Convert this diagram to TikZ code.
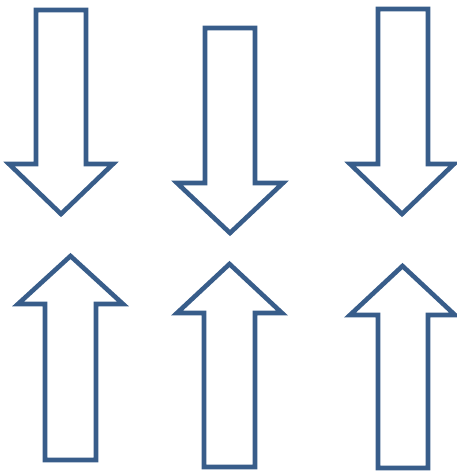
\documentclass[tikz,border=0pt]{standalone}
\usepackage{tikz}

\definecolor{arrowblue}{HTML}{385D8A}

\tikzset{blockline/.style={draw=arrowblue,line width=4.6pt,fill=white,line join=miter}}

% block arrow: shaft x from #1 to #2, shaft end at y=#3, head base at y=#4,
% head from x=#5 to #6, tip at y=#7
\newcommand{\blockarrow}[7]{%
	\draw[blockline] (#1,#3) -- (#2,#3) -- (#2,#4) -- (#6,#4)
		-- ({(#5+#6)/2},#7) -- (#5,#4) -- (#1,#4) -- cycle;}

\begin{document}
\begin{tikzpicture}[x=1pt,y=-1pt]

	\useasboundingbox (0,0) rectangle (457,471);

	%top row, pointing down
	\blockarrow{36}{86}{10}{164}{9}{113}{214}
	\blockarrow{205}{255}{28}{183}{177}{283}{233}
	\blockarrow{378}{428}{9}{164}{350}{454}{214}

	%bottom row, pointing up
	\blockarrow{45}{96}{460}{304}{18}{123}{256}
	\blockarrow{204}{255}{467}{313}{177}{282}{264}
	\blockarrow{378}{428}{468}{315}{350}{455}{266}

\end{tikzpicture}
\end{document}
